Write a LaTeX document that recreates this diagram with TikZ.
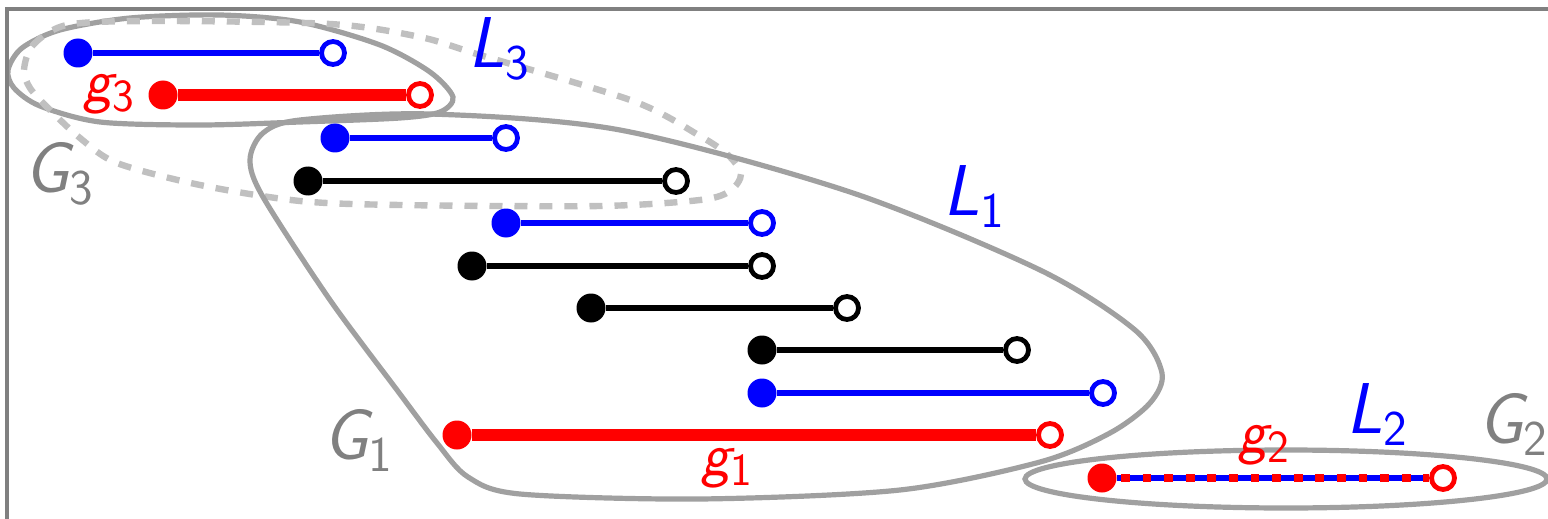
\documentclass[tikz,border=0pt]{standalone}
\usetikzlibrary{backgrounds}
\definecolor{outl}{HTML}{A0A0A0}
\definecolor{dashl}{HTML}{C0C0C0}
\definecolor{frm}{HTML}{808080}
\definecolor{glab}{HTML}{808080}
\newcommand{\labL}[2]{{\itshape #1}\raisebox{-6pt}{\fontsize{25}{28}\selectfont #2}}
\newcommand{\labg}[2]{{\itshape #1}\raisebox{-5pt}{\fontsize{23}{26}\selectfont #2}}
\begin{document}
\begin{tikzpicture}[x=0.5pt,y=-0.5pt,
  fdot/.style={circle,fill=#1,inner sep=0pt,minimum size=14.5pt},
  odot/.style={circle,draw=#1,fill=white,line width=2.4pt,inner sep=0pt,minimum size=11.5pt},
  seg/.style={draw=#1,line width=3.1pt},
  gseg/.style={draw=#1,line width=5.6pt},
  outline/.style={draw=outl,line width=2.6pt},
  dashout/.style={draw=dashl,line width=3.2pt,dash pattern=on 6.5pt off 6pt},
  biglab/.style={inner sep=0pt,anchor=base west,font=\fontsize{36}{40}\sffamily},
  smlab/.style={inner sep=0pt,anchor=base west,font=\fontsize{31}{34}\sffamily},
]
\useasboundingbox (0,0) rectangle (1548,519);
% frame
\draw[frm,line width=1.6pt] (7,540) -- (7,9) -- (1570,9);

% endpoints
\node[fdot=blue] (a1) at (78,53) {};   \node[odot=blue] (b1) at (333,53) {};
\node[fdot=red]  (a2) at (163,95) {};  \node[odot=red]  (b2) at (420,95) {};
\node[fdot=blue] (a3) at (335,138) {}; \node[odot=blue] (b3) at (506,138) {};
\node[fdot=black] (a4) at (308,181) {}; \node[odot=black] (b4) at (676,181) {};
\node[fdot=blue] (a5) at (506,223) {}; \node[odot=blue] (b5) at (762,223) {};
\node[fdot=black] (a6) at (472,266) {}; \node[odot=black] (b6) at (762,266) {};
\node[fdot=black] (a7) at (591,308) {}; \node[odot=black] (b7) at (847,308) {};
\node[fdot=black] (a8) at (762,350) {}; \node[odot=black] (b8) at (1017,350) {};
\node[fdot=blue] (a9) at (762,393) {}; \node[odot=blue] (b9) at (1103,393) {};
\node[fdot=red]  (a10) at (457,435) {}; \node[odot=red] (b10) at (1050,435) {};
\node[fdot=red]  (a11) at (1102,478) {}; \node[odot=red] (b11) at (1443,478) {};

\begin{pgfonlayer}{background}
% G3 solid
\draw[outline] plot[smooth cycle] coordinates {(8,70) (22,48) (60,30) (130,18) (220,15) (300,22) (380,45) (430,72) (453,97) (440,112) (400,118) (300,122) (200,125) (100,122) (40,106) (14,88)};
% L3 dashed
\draw[dashout] plot[smooth cycle] coordinates {(24,70) (33,45) (67,25) (150,21) (330,24) (420,37) (480,55) (633,101) (700,136) (728,155) (741,174) (730,191) (700,200) (600,206) (400,205) (300,201) (200,185) (117,163) (80,138) (48,108) (30,88)};
% G1 solid
\draw[outline] plot[smooth cycle] coordinates {(300,120) (430,114) (620,130) (850,192) (1040,270) (1135,330) (1162,373) (1150,403) (1110,433) (1040,462) (900,490) (700,499) (520,494) (468,477) (437,443) (397,390) (330,300) (263,197) (250,160) (263,133)};
% G2 ellipse
\draw[outline] (1286,479) ellipse [x radius=261, y radius=29];
% segments
\draw[seg=blue] (a1) -- (b1);
\draw[gseg=red] (a2) -- (b2);
\draw[seg=blue] (a3) -- (b3);
\draw[seg=black] (a4) -- (b4);
\draw[seg=blue] (a5) -- (b5);
\draw[seg=black] (a6) -- (b6);
\draw[seg=black] (a7) -- (b7);
\draw[seg=black] (a8) -- (b8);
\draw[seg=blue] (a9) -- (b9);
\draw[gseg=red] (a10) -- (b10);
\draw[seg=blue] (a11) -- (b11);
\draw[red,line width=4.4pt,dash pattern=on 4.4pt off 6.4pt,dash phase=-2pt] (a11) -- (b11);
\end{pgfonlayer}

% labels
\node[biglab,text=blue] (L3) at (468,68) {\labL{L}{3}};
\node[biglab,text=blue] (L1) at (943,215) {\labL{L}{1}};
\node[biglab,text=blue] (L2) at (1346,433) {\labL{L}{2}};
\node[biglab,text=glab] (G3) at (24,192) {\labL{G}{3}};
\node[biglab,text=glab] (G1) at (323,459) {\labL{G}{1}};
\node[biglab,text=glab] (G2) at (1478,443) {\labL{G}{2}};
\node[smlab,text=red] (g3) at (83,102) {\labg{g}{3}};
\node[smlab,text=red] (g1) at (701,475) {\labg{g}{1}};
\node[smlab,text=red] (g2) at (1238,452) {\labg{g}{2}};
\end{tikzpicture}
\end{document}
